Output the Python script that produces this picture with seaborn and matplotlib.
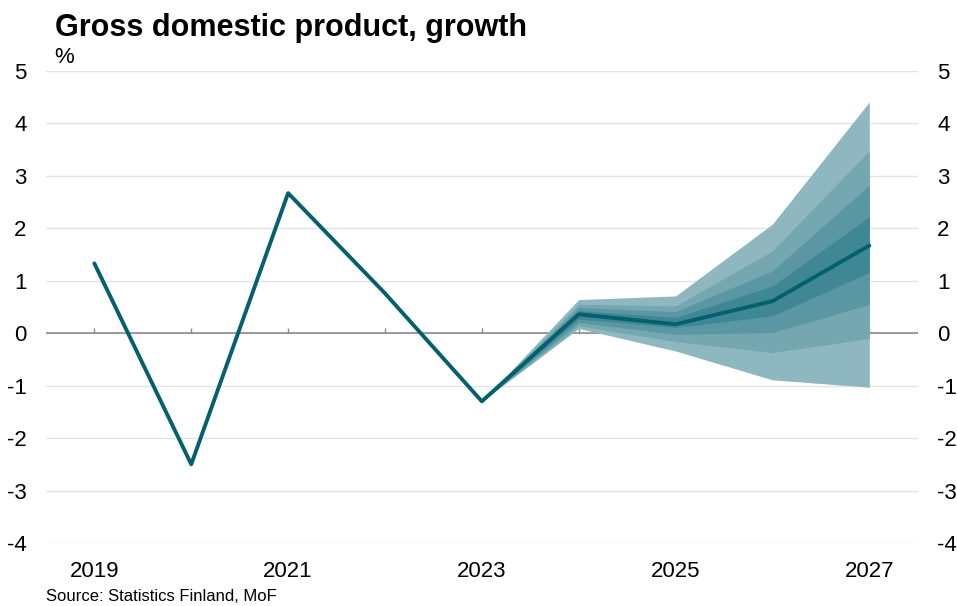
import matplotlib.pyplot as plt
import pandas as pd
import seaborn as sns

# data
years = [2019, 2020, 2021, 2022, 2023, 2024, 2025, 2026, 2027]
growth = [1.33, -2.5, 2.67, 0.76, -1.3, 0.36, 0.17, 0.61, 1.67]

fan_years = [2023, 2024, 2025, 2026, 2027]
# fan bands, outermost first: (upper, lower)
band1_hi = [-1.3, 0.64, 0.71, 2.08, 4.41]
band1_lo = [-1.3, 0.09, -0.34, -0.89, -1.03]
band2_hi = [-1.3, 0.55, 0.52, 1.57, 3.48]
band2_lo = [-1.3, 0.14, -0.16, -0.37, -0.10]
band3_hi = [-1.3, 0.49, 0.41, 1.19, 2.82]
band3_lo = [-1.3, 0.20, -0.02, 0.01, 0.55]
band4_hi = [-1.3, 0.43, 0.30, 0.90, 2.22]
band4_lo = [-1.3, 0.27, 0.11, 0.33, 1.16]

band_colors = ['#8fb7bf', '#75a7b1', '#5b97a2', '#3f8794']
line_color = '#05606e'

sns.set_style('white')
plt.rcParams['font.family'] = ['Liberation Sans', 'DejaVu Sans']
plt.rcParams['axes.unicode_minus'] = False
plt.rcParams['text.color'] = 'black'

df = pd.DataFrame({'year': years, 'growth': growth})

fig = plt.figure(figsize=(9.57, 6.06), dpi=100)
ax = fig.add_axes([0.048, 0.104, 0.911, 0.779])

bands = [(band1_hi, band1_lo), (band2_hi, band2_lo),
         (band3_hi, band3_lo), (band4_hi, band4_lo)]
for (hi, lo), c in zip(bands, band_colors):
    ax.fill_between(fan_years, lo, hi, color=c, lw=0, zorder=2)

sns.lineplot(data=df, x='year', y='growth', color=line_color, lw=2.8,
             ax=ax, zorder=3)

ax.set_xlim(2018.5, 2027.5)
ax.set_ylim(-4, 5)
ax.set_yticks(range(-4, 6))
ax.grid(axis='y', color='#e3e3e3', lw=1)
ax.set_axisbelow(True)
ax.axhline(0, color='#8c8c8c', lw=1.2, zorder=1)
ax.set_xlabel('')
ax.set_ylabel('')

for s in ax.spines.values():
    s.set_visible(False)

# year ticks sit on the zero line, labels at the bottom
ax.set_xticks(years)
ax.tick_params(axis='x', which='both', length=0, labelbottom=False)
ax.vlines(years + [2027.5], 0, 0.09, color='#8c8c8c', lw=1, zorder=1)

sec = ax.secondary_xaxis('bottom')
sec.set_xticks([2019, 2021, 2023, 2025, 2027])
sec.tick_params(length=0, labelsize=16, pad=13, colors='#000000')
sec.spines['bottom'].set_visible(False)

ax.tick_params(axis='y', length=0, labelsize=16, labelleft=True,
               labelright=True, pad=14, labelcolor='#000000')

fig.text(0.057, 0.953, 'Gross domestic product, growth', fontsize=22,
         fontweight='bold', va='center', color='black')
fig.text(0.057, 0.905, '%', fontsize=16, va='center', color='black')
fig.text(0.048, 0.003, 'Source: Statistics Finland, MoF', fontsize=12,
         va='bottom', color='black')

plt.savefig('out.png', dpi=100)
